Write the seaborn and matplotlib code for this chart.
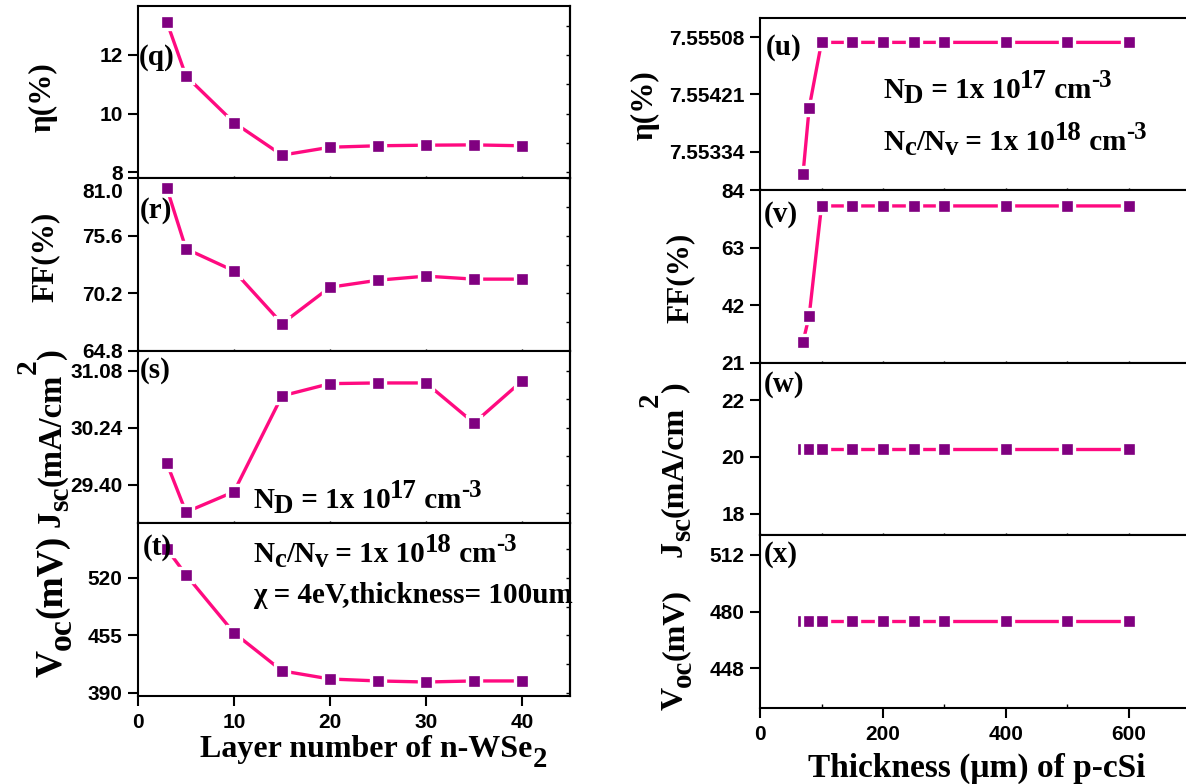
import matplotlib
matplotlib.use("Agg")
import matplotlib.pyplot as plt
from matplotlib.font_manager import FontProperties
from matplotlib.ticker import FixedLocator, FuncFormatter, AutoMinorLocator
import seaborn as sns

# ---- data: left column, n-WSe2 layer sweep ----
layers = [3, 5, 10, 15, 20, 25, 30, 35, 40]
eta_layer = [13.13, 11.28, 9.69, 8.58, 8.85, 8.90, 8.92, 8.93, 8.90]
ff_layer = [80.05, 74.37, 72.30, 67.36, 70.77, 71.43, 71.81, 71.53, 71.53]
jsc_layer = [29.72, 29.00, 29.30, 30.71, 30.89, 30.90, 30.90, 30.31, 30.93]
voc_layer = [552.8, 523.4, 457.9, 415.0, 405.8, 403.6, 402.4, 403.6, 403.6]

# ---- data: right column, p-cSi thickness sweep ----
thickness = [70, 80, 100, 150, 200, 250, 300, 400, 500, 600]
eta_thick = [7.55301, 7.55401, 7.55500, 7.55500, 7.55500, 7.55500, 7.55500, 7.55500, 7.55500, 7.55500]
ff_thick = [28.7, 38.2, 78.2, 78.2, 78.2, 78.2, 78.2, 78.2, 78.2, 78.2]
jsc_thick = [20.28, 20.28, 20.28, 20.28, 20.28, 20.28, 20.28, 20.28, 20.28, 20.28]
voc_thick = [474.4, 474.4, 474.4, 474.4, 474.4, 474.4, 474.4, 474.4, 474.4, 474.4]

# ---- tick labels ----
eta_l_ticks = [8, 10, 12]
ff_l_ticks = [64.8, 70.2, 75.6, 81.0]
jsc_l_ticks = [29.40, 30.24, 31.08]
voc_l_ticks = [390, 455, 520]
eta_r_ticks = [7.55334, 7.55421, 7.55508]
ff_r_ticks = [21, 42, 63, 84]
jsc_r_ticks = [18, 20, 22]
voc_r_ticks = [448, 480, 512]
layer_ticks = [0, 10, 20, 30, 40]
thick_ticks = [0, 200, 400, 600]
thick_minor = [100, 300, 500]

LINE = "#FF0A80"
MARK = "#800080"

sns.set_style("ticks")
plt.rcParams["font.family"] = ["Liberation Serif", "DejaVu Serif"]
plt.rcParams["font.weight"] = "bold"
plt.rcParams["text.color"] = "black"
plt.rcParams["xtick.color"] = "black"
plt.rcParams["ytick.color"] = "black"
plt.rcParams["axes.edgecolor"] = "black"
plt.rcParams["axes.linewidth"] = 1.5

W, H = 1186, 784
fig = plt.figure(figsize=(W / 100, H / 100), dpi=100)
renderer = fig.canvas.get_renderer()


def px_axes(x0, x1, y0, y1):
    return fig.add_axes([x0 / W, 1 - y1 / H, (x1 - x0) / W, (y1 - y0) / H])


def ftext(x, y, s, **kw):
    return fig.text(x / W, 1 - y / H, s, **kw)


def text_width(s, size, family):
    probe = fig.text(0, 0, "|" + s + "|", size=size, weight="bold", family=family)
    bars = fig.text(0, 0, "||", size=size, weight="bold", family=family)
    w = probe.get_window_extent(renderer).width - bars.get_window_extent(renderer).width
    probe.remove()
    bars.remove()
    return w


def rich(x, y, parts, size, rot=0, family="Liberation Serif"):
    """Write runs of text with real-size sub/superscripts.
    (x, y): start of the baseline, pixels from the top-left corner.
    parts: (text, scale, baseline shift in em)."""
    X, Y = x, H - y
    d = (1, 0) if rot == 0 else (0, 1)
    n = (0, 1) if rot == 0 else (-1, 0)
    em = size * 100 / 72
    pos = 0.0
    for s, sc, sh in parts:
        px = X + d[0] * pos + n[0] * sh * em
        py = Y + d[1] * pos + n[1] * sh * em
        fig.text(px / W, py / H, s, size=size * sc, weight="bold", family=family,
                 rotation=rot, rotation_mode="anchor", ha="left", va="baseline")
        pos += text_width(s, size * sc, family)


TICKFONT = FontProperties(family="Liberation Sans", weight="bold", size=15)


def fmt(pattern, skip=()):
    return FuncFormatter(lambda v, p: "" if any(abs(v - s) < 1e-9 for s in skip) else pattern % v)


def style_axes(ax, xlim, xticks, ylim, yticks, yformatter, bottom, xminor=None, right_ticks=False):
    ax.set_xlim(*xlim)
    ax.set_ylim(*ylim)
    for sp in ax.spines.values():
        sp.set_visible(True)
        sp.set_linewidth(1.5)
        sp.set_color("black")
    ax.yaxis.set_major_locator(FixedLocator(yticks))
    ax.yaxis.set_major_formatter(yformatter)
    ax.xaxis.set_major_locator(FixedLocator(xticks))
    if xminor is not None:
        ax.xaxis.set_minor_locator(FixedLocator(xminor))
    ax.tick_params(axis="y", which="major", direction="out", length=7, width=1.5, pad=4)
    for lab in ax.get_yticklabels():
        lab.set_fontproperties(TICKFONT)
    if bottom:
        ax.tick_params(axis="x", which="major", direction="out", length=7, width=1.5, pad=5)
        ax.tick_params(axis="x", which="minor", direction="in", length=3, width=1.0)
        for lab in ax.get_xticklabels():
            lab.set_fontproperties(TICKFONT)
    else:
        ax.tick_params(axis="x", which="both", direction="inout", length=3, width=1.0,
                       labelbottom=False)
    if right_ticks:
        sec = ax.secondary_yaxis("right")
        sec.yaxis.set_major_locator(FixedLocator(yticks))
        sec.yaxis.set_minor_locator(AutoMinorLocator(2))
        sec.tick_params(which="both", direction="in", length=3, width=1.0, labelright=False)
        sec.spines["right"].set_linewidth(1.5)
    ax.set_xlabel("")
    ax.set_ylabel("")


def draw(ax, x, y):
    sns.lineplot(x=x, y=y, ax=ax, color=LINE, linewidth=2.4, marker="s",
                 markersize=9.8, markerfacecolor=MARK, markeredgecolor="white",
                 markeredgewidth=2.4, errorbar=None, sort=False, zorder=3)


# ---- left column ----
LX0, LX1 = 138, 570
ax_q = px_axes(LX0, LX1, 6, 178)
ax_r = px_axes(LX0, LX1, 178, 351)
ax_s = px_axes(LX0, LX1, 351, 523)
ax_t = px_axes(LX0, LX1, 523, 696)

draw(ax_q, layers, eta_layer)
draw(ax_r, layers, ff_layer)
draw(ax_s, layers, jsc_layer)
draw(ax_t, layers, voc_layer)

style_axes(ax_q, (0, 45), layer_ticks, (7.8, 13.67), eta_l_ticks, fmt("%d"), False, right_ticks=True)
style_axes(ax_r, (0, 45), layer_ticks, (64.8, 81.0), ff_l_ticks, fmt("%.1f", skip=(81.0,)), False, right_ticks=True)
style_axes(ax_s, (0, 45), layer_ticks, (28.84, 31.37), jsc_l_ticks, fmt("%.2f"), False, right_ticks=True)
style_axes(ax_t, (0, 45), layer_ticks, (386.6, 582.0), voc_l_ticks, fmt("%d"), True, right_ticks=True)
# top label of the FF axis sits just under the panel border
ftext(123, 193, "%.1f" % ff_l_ticks[-1], fontproperties=TICKFONT, ha="right", va="center")

# ---- right column ----
RX0, RX1 = 760, 1190.5
ax_u = px_axes(RX0, RX1, 18, 190)
ax_v = px_axes(RX0, RX1, 190, 363)
ax_w = px_axes(RX0, RX1, 363, 535)
ax_x = px_axes(RX0, RX1, 535, 708)

draw(ax_u, thickness, eta_thick)
draw(ax_v, thickness, ff_thick)
draw(ax_w, thickness, jsc_thick)
draw(ax_x, thickness, voc_thick)

style_axes(ax_u, (0, 700), thick_ticks + thick_minor, (7.55276, 7.55537), eta_r_ticks, fmt("%.5f"), False)
style_axes(ax_v, (0, 700), thick_ticks + thick_minor, (21, 84), ff_r_ticks, fmt("%d"), False)
style_axes(ax_w, (0, 700), thick_ticks + thick_minor, (17.26, 23.3), jsc_r_ticks, fmt("%d"), False)
style_axes(ax_x, (0, 700), thick_ticks, (425.4, 523.3), voc_r_ticks, fmt("%d"), True, xminor=thick_minor)

# ---- axis titles (rotated) ----
eta_lab = [("η(%)", 1, 0)]
ff_lab = [("FF(%)", 1, 0)]
jsc_lab = [("J", 1, 0), ("sc", 0.9, -0.25), ("(mA/cm", 1, 0), ("2", 0.9, 0.75), (")", 1, 0)]
voc_lab = [("V", 1, 0), ("oc", 0.9, -0.25), ("(mV)", 1, 0)]

rich(51, 132, eta_lab, 22.5, rot=90)
rich(53, 302, ff_lab, 22.5, rot=90)
rich(60, 527, jsc_lab, 23.5, rot=90)
rich(61, 677, voc_lab, 27, rot=90)

rich(653, 140, eta_lab, 22.5, rot=90)
rich(688, 323, ff_lab, 22.5, rot=90)
rich(682, 557, jsc_lab, 23, rot=90)
rich(683, 710, voc_lab, 23, rot=90)

rich(200, 757, [("Layer number of n-WSe", 1, 0), ("2", 0.9, -0.3)], 23)
rich(808, 777, [("Thickness (μm) of p-cSi", 1, 0)], 24)

# ---- panel tags ----
TAG = dict(size=21, weight="bold", ha="left", va="baseline")
for x, y, s in [(139, 65, "(q)"), (140, 218, "(r)"), (140, 378, "(s)"), (143, 555, "(t)"),
                (766, 55, "(u)"), (764, 222, "(v)"), (764, 392, "(w)"), (764, 562, "(x)")]:
    ftext(x, y, s, **TAG)

# ---- simulation parameters ----
nd = [("N", 1, 0), ("D", 0.92, -0.17), (" = 1x 10", 1, 0), ("17", 0.92, 0.35),
      (" cm", 1, 0), ("-3", 0.85, 0.38)]
ncnv = [("N", 1, 0), ("c", 0.92, -0.17), ("/N", 1, 0), ("v", 0.92, -0.17),
        (" = 1x 10", 1, 0), ("18", 0.92, 0.35), (" cm", 1, 0), ("-3", 0.85, 0.38)]
rich(253, 508, nd, 21)
rich(253, 562, ncnv, 21)
rich(253, 603, [("χ = 4eV,thickness= 100um", 1, 0)], 21)
rich(883, 98, nd, 21)
rich(883, 150, ncnv, 21)

fig.savefig("out.png", dpi=100)
